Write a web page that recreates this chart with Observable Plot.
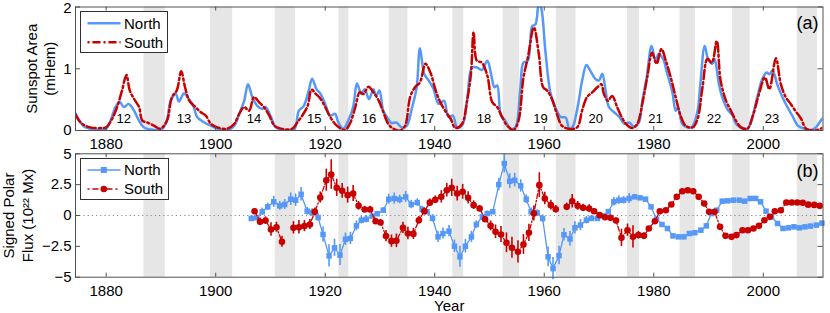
<!DOCTYPE html>
<html><head><meta charset="utf-8">
<script src="https://cdn.jsdelivr.net/npm/d3@7"></script>
<script src="https://cdn.jsdelivr.net/npm/@observablehq/plot@0.6"></script>
<style>
html,body{margin:0;padding:0;background:#fff;}
#wrap{position:relative;width:830px;height:313px;overflow:hidden;font-family:"Liberation Sans",Arial,Helvetica,sans-serif;}
#wrap svg{position:absolute;left:0;}
</style></head>
<body><div id="wrap"></div>
<script>
// ---------- DATA ----------
const xTicks = [1880, 1900, 1920, 1940, 1960, 1980, 2000];
const areaTicks = [0, 1, 2];
const fluxTicks = [-5, -2.5, 0, 2.5, 5];

// grey bands (cycle minima)
const bandStart = [1886.9, 1899.05, 1910.9, 1922.5, 1931.7, 1943.3, 1952.5, 1962.2, 1975.2, 1984.8, 1994.4, 2006.2];
const bandEnd   = [1890.8, 1903.1, 1914.6, 1924.3, 1935.1, 1945.3, 1955.5, 1965.8, 1977.4, 1987.6, 1997.6, 2009.9];

// cycle numbers
const cycleNumbers = ["12","13","14","15","16","17","18","19","20","21","22","23"];
const cycleYears   = [1883.2, 1894.2, 1907.0, 1918.0, 1928.0, 1938.6, 1949.0, 1959.3, 1969.4, 1980.3, 1991.0, 2001.6];

// sunspot area, North (mHem)
const northAreaYears = [1874.4,1875.2,1876,1877.1,1879,1880,1880.8,1881.7,1882.5,1883.2,1884.1,1885.1,1886,1886.9,1888.7,1889.9,1890.9,1891.8,1892.7,1893.3,1894.2,1895.1,1896,1896.6,1897.9,1899.1,1900.3,1902.1,1903.4,1904.3,1905.2,1905.9,1906.7,1907.6,1908.5,1909.1,1910.1,1911,1912.5,1914.3,1915.2,1916.1,1917,1917.6,1918.4,1919.1,1920,1920.9,1921.8,1922.4,1923.3,1924.2,1925.1,1925.8,1926.6,1927.2,1928,1928.8,1929.3,1929.9,1930.6,1931.5,1932.1,1933,1934,1934.9,1935.8,1936.7,1937.3,1938.1,1938.9,1939.8,1940.7,1941.7,1942.5,1943.3,1944.1,1945,1945.9,1946.8,1947.7,1948.6,1949.6,1950.3,1950.9,1951.4,1952.1,1952.9,1953.8,1954.7,1955.6,1956.2,1957,1957.8,1958.4,1959,1959.4,1960.2,1961.1,1962,1963,1963.9,1964.6,1965.3,1965.8,1966.3,1966.9,1967.7,1968.4,1969.4,1970,1970.6,1971.2,1971.8,1972.7,1973.7,1974.6,1975.5,1976.4,1977.3,1977.9,1978.7,1979.6,1980.3,1980.9,1981.7,1982.4,1983.4,1984,1984.4,1985.2,1986.1,1987,1988,1988.5,1989.3,1989.9,1990.7,1991.1,1991.9,1992.5,1993.4,1994.4,1995,1995.9,1997.1,1998,1998.9,1999.8,2000.6,2001.1,2001.7,2002.6,2003.5,2004.4,2005.3,2006.3,2007.5,2008.7,2009.6,2010.5,2010.9];
const northAreaValues = [0.28,0.15,0.06,0.03,0.01,0.03,0.16,0.38,0.46,0.38,0.43,0.32,0.16,0.05,0.01,0.01,0.11,0.48,0.59,0.47,0.6,0.51,0.38,0.22,0.13,0.08,0.03,0.01,0.08,0.27,0.48,0.75,0.54,0.4,0.35,0.38,0.22,0.05,0.01,0.01,0.32,0.4,0.65,0.84,0.67,0.6,0.43,0.24,0.27,0.13,0.03,0.16,0.38,0.76,0.59,0.67,0.51,0.67,0.56,0.65,0.32,0.19,0.12,0.13,0.05,0.08,0.35,0.7,1.33,0.91,0.81,0.67,0.43,0.48,0.22,0.24,0.05,0.08,0.48,1.02,1.02,0.98,1.13,0.91,0.7,0.73,0.24,0.16,0.03,0.05,0.65,1.1,1.13,1.69,1.72,2.05,2.0,1.29,0.62,0.38,0.22,0.21,0.02,0.08,0.25,0.48,0.8,1.06,0.97,0.83,0.81,0.92,0.65,0.38,0.3,0.22,0.11,0.13,0.06,0.13,0.48,0.86,1.37,1.13,1.24,1.16,0.94,0.62,0.32,0.37,0.11,0.05,0.06,0.32,0.75,1.37,1.16,1.08,1.16,0.75,0.54,0.35,0.24,0.11,0.05,0.03,0.22,0.54,0.83,0.94,0.91,0.97,0.73,0.54,0.38,0.24,0.08,0.03,0.01,0.05,0.16,0.2];

// sunspot area, South (mHem)
const southAreaYears = [1874.4,1875.3,1877.1,1879.3,1880,1881.1,1882,1882.9,1883.7,1884.3,1885.1,1886,1886.6,1887.5,1888.7,1889.9,1891.1,1892,1892.9,1893.7,1894.4,1895.2,1896.3,1897.2,1898.2,1899.1,1900.3,1902.1,1903.4,1904.3,1905.2,1906.1,1907,1907.9,1908.8,1909.8,1910.7,1911.9,1914,1914.9,1915.8,1916.8,1917.5,1918.3,1919.1,1920,1920.9,1922.1,1923.6,1924.5,1925.5,1926.3,1927,1927.9,1928.8,1929.8,1930.6,1931.5,1932.4,1933.7,1934.6,1935.5,1936.4,1937.3,1938.3,1939.2,1940.1,1940.9,1941.9,1942.9,1943.8,1945,1945.9,1946.6,1947.1,1947.7,1948.6,1949.6,1950.5,1951.4,1952.3,1953.2,1954.4,1955.3,1956.2,1957,1958.1,1959,1959.8,1960.5,1961.4,1962.3,1963.2,1964.4,1966,1966.9,1967.8,1968.8,1969.7,1970.4,1970.9,1971.6,1972.4,1973.3,1974.3,1975.2,1976.1,1977,1977.9,1978.8,1979.7,1980.5,1981.4,1982.2,1983.1,1984,1984.9,1985.8,1987.1,1988,1988.9,1989.8,1990.6,1991.5,1992.2,1993.2,1994.1,1995,1995.9,1997.1,1998.2,1999.2,2000.3,2001.1,2002.3,2003.2,2004.1,2005,2006,2006.9,2007.8,2009.3,2010.5,2010.9];
const southAreaValues = [0.26,0.13,0.05,0.04,0.05,0.19,0.38,0.65,0.9,0.65,0.51,0.38,0.16,0.13,0.08,0.03,0.16,0.54,0.65,0.96,0.7,0.48,0.38,0.3,0.24,0.11,0.05,0.03,0.11,0.27,0.38,0.32,0.54,0.46,0.38,0.24,0.08,0.03,0.03,0.13,0.24,0.4,0.66,0.59,0.52,0.38,0.22,0.08,0.01,0.11,0.38,0.62,0.59,0.71,0.62,0.48,0.3,0.11,0.03,0.0,0.08,0.54,0.7,0.78,1.08,0.94,0.67,0.48,0.32,0.19,0.04,0.11,0.48,0.91,1.59,1.13,1.1,0.89,0.46,0.38,0.22,0.08,0.01,0.16,0.86,1.18,1.67,1.24,0.7,0.65,0.51,0.27,0.08,0.03,0.05,0.32,0.54,0.62,0.7,0.75,0.59,0.48,0.56,0.38,0.19,0.08,0.04,0.11,0.43,0.86,1.26,1.08,1.32,1.13,0.86,0.54,0.24,0.08,0.05,0.19,0.7,1.16,1.1,1.45,0.81,0.48,0.32,0.16,0.05,0.03,0.27,0.59,0.86,0.67,1.17,0.75,0.54,0.43,0.3,0.19,0.03,0.0,0.03,0.05];

// signed polar flux, North (1e22 Mx) with error half-lengths
const northFluxYears = [1906.5,1907.5,1908.5,1909.5,1910.6,1911.7,1912.6,1913.7,1914.6,1915.6,1916.7,1917.6,1918.7,1919.6,1920.7,1921.7,1922.7,1923.7,1924.6,1925.7,1926.6,1927.5,1928.6,1929.5,1930.6,1931.6,1932.6,1933.6,1934.7,1935.7,1936.8,1937.7,1938.6,1939.6,1940.6,1941.5,1942.6,1943.6,1944.6,1945.6,1946.7,1947.6,1948.7,1949.6,1950.6,1951.7,1952.7,1953.7,1954.6,1955.7,1956.7,1957.6,1958.7,1959.7,1960.7,1961.6,1962.7,1963.6,1964.7,1965.6,1966.6,1967.7,1968.6,1969.7,1970.7,1971.7,1972.7,1973.6,1974.5,1975.5,1976.5,1977.5,1978.5,1979.5,1980.5,1981.5,1982.5,1983.5,1984.5,1985.5,1986.5,1987.5,1988.6,1989.6,1990.5,1991.5,1992.5,1993.5,1994.5,1995.6,1996.6,1997.6,1998.6,1999.5,2000.5,2001.5,2002.6,2003.6,2004.6,2005.6,2006.6,2007.6,2008.6,2009.7,2010.7];
const northFluxValues = [-0.24,-0.19,0.3,0.7,1.11,0.78,0.89,1.32,1.24,1.72,0.35,0.24,-0.16,-1.54,-3.27,-2.62,-3.21,-1.92,-1.86,-0.84,-0.38,-0.3,-0.05,0.14,0.43,1.32,1.38,1.3,1.51,0.89,1.05,0.49,0.3,-0.22,-1.73,-1.46,-1.27,-2.49,-3.35,-2.49,-1.73,-0.73,-0.11,0.16,0.3,2.51,4.21,2.78,2.86,2.4,1.32,0.3,0.22,-0.24,-3.35,-4.3,-3.25,-1.56,-1.9,-1.0,-0.78,-0.38,-0.24,-0.24,-0.03,0.3,1.11,1.24,1.24,1.38,1.51,1.43,1.32,0.7,-0.3,-0.73,-1.05,-1.65,-1.73,-1.73,-1.46,-1.4,-1.19,-0.84,0.16,0.43,1.16,1.19,1.24,1.24,1.16,1.38,1.38,1.11,0.35,-0.11,-0.65,-1.05,-1.0,-0.92,-1.0,-0.92,-0.86,-0.78,-0.62];
const northFluxErrors = [0.2,0.2,0.3,0.3,0.45,0.35,0.4,0.5,0.5,0.55,0.3,0.3,0.3,0.6,0.9,0.7,0.85,0.5,0.5,0.4,0.3,0.3,0.2,0.2,0.2,0.4,0.45,0.35,0.45,0.35,0.3,0.25,0.2,0.3,0.45,0.45,0.45,0.5,0.85,0.55,0.45,0.3,0.2,0.2,0.2,0.5,0.75,0.6,0.55,0.5,0.35,0.3,0.25,0.3,0.8,0.9,0.75,0.5,0.6,0.5,0.45,0.3,0.25,0.2,0.2,0.2,0.35,0.35,0.3,0.4,0.2,0.15,0.15,0.15,0.15,0.15,0.15,0.15,0.15,0.15,0.15,0.15,0.15,0.15,0.15,0.15,0.15,0.15,0.15,0.15,0.15,0.15,0.15,0.15,0.15,0.15,0.15,0.15,0.15,0.15,0.15,0.15,0.15,0.15,0.15];

// signed polar flux, South (null = no measurement)
const southFluxYears = [1907.1,1908.1,1909.1,1910.1,1911.1,1912.1,1913.1,1914.2,1915.2,1916.2,1917.2,1918.1,1919.1,1920.2,1921.1,1922.1,1923.1,1924.1,1925.1,1926.1,1927.2,1928.2,1929.2,1930.1,1931.1,1932.1,1933.0,1934.2,1935.1,1936.1,1937.1,1938.1,1939.1,1940.1,1941.2,1942.2,1943.1,1944.1,1945.1,1946.1,1947.1,1948.2,1949.2,1950.2,1951.1,1952.1,1953.1,1954.1,1955.2,1956.2,1957.2,1958.1,1959.1,1960.1,1961.2,1962.1,1963.1,1964.1,1965.1,1966.1,1967.1,1968.2,1969.1,1970.1,1971.1,1972.1,1973.1,1974.1,1975.2,1976.2,1977.2,1978.2,1979.1,1980.2,1981.1,1982.2,1983.2,1984.2,1985.2,1986.2,1987.2,1988.2,1989.2,1990.1,1991.1,1992.1,1993.1,1994.2,1995.1,1996.2,1997.2,1998.2,1999.2,2000.2,2001.2,2002.1,2003.2,2004.2,2005.2,2006.2,2007.2,2008.2,2009.3,2010.3];
const southFluxValues = [0.35,-0.51,-0.41,-1.13,-0.95,-2.13,null,-1.0,-0.95,-0.86,-0.73,0.3,1.46,2.86,3.32,2.24,2.0,1.65,1.78,0.78,0.49,0.49,-0.46,-0.57,-1.67,-2.08,-2.05,-1.0,-1.46,-1.49,-0.38,0.35,1.04,1.28,1.51,2.05,2.24,1.78,1.92,1.43,0.84,0.57,-0.3,-0.84,-1.32,-1.54,-2.21,-2.62,-2.94,-2.35,-1.4,0.16,2.46,1.38,0.84,0.51,null,0.7,1.16,0.78,0.62,0.57,0.35,0.03,-0.14,-0.19,-0.41,-1.81,-1.19,-1.73,-1.59,-1.65,-1.05,-0.46,0.35,0.43,0.89,1.51,1.97,2.05,1.97,1.51,0.97,0.3,0.3,-0.92,-1.65,-1.73,-1.59,-1.19,-1.19,-1.05,-0.84,-0.38,-0.11,0.35,0.43,1.05,1.05,1.05,1.03,0.88,0.86,0.78];
const southFluxErrors = [0.2,0.3,0.3,0.55,0.4,0.45,null,0.5,0.55,0.45,0.4,0.3,0.45,0.9,1.2,0.7,0.6,0.65,0.65,0.35,0.25,0.25,0.25,0.25,0.45,0.5,0.55,0.45,0.5,0.45,0.3,0.25,0.3,0.3,0.5,0.55,0.7,0.6,0.6,0.5,0.35,0.25,0.2,0.4,0.55,0.65,0.8,0.85,0.9,0.8,0.7,0.6,1.0,0.5,0.4,0.3,null,0.3,0.55,0.35,0.3,0.3,0.2,0.2,0.2,0.2,0.2,0.7,0.5,0.9,0.3,0.25,0.15,0.15,0.15,0.15,0.15,0.15,0.15,0.15,0.15,0.15,0.15,0.15,0.15,0.15,0.15,0.15,0.15,0.15,0.15,0.15,0.15,0.15,0.15,0.15,0.15,0.15,0.15,0.15,0.15,0.15,0.15,0.15];

// ---------- BUILD ----------
const BLUE = "#5598f8", RED = "#c80000", FRAME = "#505050", BAND = "#e6e6e6";
const FONT = "'Liberation Sans', Arial, Helvetica, sans-serif";
const W = 830, ML = 75, MR = 7.5;
const xDomain = [1874.4, 2010.9];
const frameW = W - ML - MR;

const bands = bandStart.map((s, i) => ({s, e: bandEnd[i]}));
const cycles = cycleNumbers.map((label, i) => ({label, year: cycleYears[i]}));
const rows = (ys, vs, es) => ys.map((year, i) => ({year, v: vs[i], e: es ? es[i] : null}));
const northArea = rows(northAreaYears, northAreaValues);
const southArea = rows(southAreaYears, southAreaValues);
const northFlux = rows(northFluxYears, northFluxValues, northFluxErrors);
const southFlux = rows(southFluxYears, southFluxValues, southFluxErrors);
const has = d => d.v != null;

const fmt = d => (d < 0 ? "\u2212" : "") + Math.abs(d);
const style = {fontFamily: FONT, fontSize: "15px", background: "transparent", overflow: "visible", color: "#000"};

function frameMarks(frameH, yTicks, topLabelShift) {
  const yMax = d3.max(yTicks);
  return [
    Plot.ruleX(xTicks, {insetTop: frameH - 4, stroke: FRAME}),
    Plot.ruleX(xTicks, {insetBottom: frameH - 4, stroke: FRAME}),
    Plot.ruleY(yTicks, {insetRight: frameW - 5, stroke: FRAME}),
    Plot.ruleY(yTicks, {insetLeft: frameW - 5, stroke: FRAME}),
    Plot.frame({stroke: FRAME, strokeWidth: 1}),
    Plot.axisX(xTicks, {tickSize: 0, tickPadding: 8, label: null, tickFormat: d => String(d), fontSize: 15}),
    Plot.axisY(yTicks.filter(t => t !== yMax), {tickSize: 0, tickPadding: 4, label: null, tickFormat: fmt, fontSize: 15}),
    Plot.axisY([yMax], {tickSize: 0, tickPadding: 4, label: null, tickFormat: fmt, fontSize: 15, dy: topLabelShift})
  ];
}

// top panel
const topH = 150, topMT = 6.5, topMB = 20, topFrameH = topH - topMT - topMB;
const topPlot = Plot.plot({
  width: W, height: topH, marginLeft: ML, marginRight: MR, marginTop: topMT, marginBottom: topMB,
  style,
  x: {domain: xDomain},
  y: {domain: [0, 2]},
  marks: [
    Plot.rect(bands, {x1: "s", x2: "e", fill: BAND}),
    Plot.text(cycles, {x: "year", text: "label", frameAnchor: "bottom", lineAnchor: "middle", dy: -12, fontSize: 13}),
    Plot.line(northArea, {x: "year", y: "v", stroke: BLUE, strokeWidth: 2.5, curve: "catmull-rom", clip: true}),
    Plot.line(southArea, {x: "year", y: "v", stroke: RED, strokeWidth: 2.5, strokeDasharray: "9,3,2,3", curve: "catmull-rom", clip: true}),
    ...frameMarks(topFrameH, areaTicks, 1.5),
    Plot.text(["Sunspot Area"], {text: d => d, frameAnchor: "left", textAnchor: "middle", lineAnchor: "middle", dx: -43, rotate: -90, fontSize: 15}),
    Plot.text(["(mHem)"], {text: d => d, frameAnchor: "left", textAnchor: "middle", lineAnchor: "middle", dx: -25, rotate: -90, fontSize: 15}),
    Plot.text(["(a)"], {text: d => d, frameAnchor: "top-right", textAnchor: "end", lineAnchor: "middle", dx: -4.5, dy: 16, fontSize: 18})
  ]
});

// bottom panel
const botTop = 148, botH = 165, botMT = 5.3, botMB = 36.3, botFrameH = botH - botMT - botMB;
const botPlot = Plot.plot({
  width: W, height: botH, marginLeft: ML, marginRight: MR, marginTop: botMT, marginBottom: botMB,
  style,
  x: {domain: xDomain},
  y: {domain: [-5, 5]},
  marks: [
    Plot.rect(bands, {x1: "s", x2: "e", fill: BAND}),
    Plot.ruleY([0], {stroke: "#8a8a8a", strokeDasharray: "1.2,3"}),
    Plot.ruleX(northFlux.filter(has), {x: "year", y1: d => d.v - d.e, y2: d => d.v + d.e, stroke: BLUE, strokeWidth: 1.6}),
    Plot.line(northFlux, {x: "year", y: "v", stroke: BLUE, strokeWidth: 1.3}),
    Plot.dot(northFlux.filter(has), {x: "year", y: "v", symbol: "square", r: 3.1, fill: BLUE, stroke: "none"}),
    Plot.ruleX(southFlux.filter(has), {x: "year", y1: d => d.v - d.e, y2: d => d.v + d.e, stroke: RED, strokeWidth: 1.6}),
    Plot.line(southFlux, {x: "year", y: "v", stroke: RED, strokeWidth: 1.3, strokeDasharray: "5,2,1.5,2"}),
    Plot.dot(southFlux.filter(has), {x: "year", y: "v", symbol: "circle", r: 3.3, fill: RED, stroke: "none"}),
    ...frameMarks(botFrameH, fluxTicks, 0),
    Plot.text(["Year"], {text: d => d, frameAnchor: "bottom", lineAnchor: "middle", dy: 28.5, fontSize: 15}),
    Plot.text(["Signed Polar"], {text: d => d, frameAnchor: "left", textAnchor: "middle", lineAnchor: "middle", dx: -66.5, rotate: -90, fontSize: 15}),
    Plot.text(["Flux (10\u00B2\u00B2 Mx)"], {text: d => d, frameAnchor: "left", textAnchor: "middle", lineAnchor: "middle", dx: -47, rotate: -90, fontSize: 15}),
    Plot.text(["(b)"], {text: d => d, frameAnchor: "top-right", textAnchor: "end", lineAnchor: "middle", dx: -4.5, dy: 17.5, fontSize: 18})
  ]
});

const wrap = document.getElementById("wrap");
topPlot.style.top = "0px";
botPlot.style.top = botTop + "px";
wrap.appendChild(topPlot);
wrap.appendChild(botPlot);

// legends (overlay)
const leg = d3.select(wrap).append("svg")
  .attr("width", W).attr("height", 313)
  .style("top", "0px").style("font-family", FONT).style("font-size", "15px");

function legendBox(x, y, w, h, items) {
  const g = leg.append("g");
  g.append("rect").attr("x", x).attr("y", y).attr("width", w).attr("height", h)
    .attr("fill", "#fff").attr("stroke", "#303030").attr("stroke-width", 1);
  items.forEach(it => {
    g.append("line").attr("x1", x + 7).attr("x2", x + 40).attr("y1", it.y).attr("y2", it.y)
      .attr("stroke", it.color).attr("stroke-width", it.width)
      .attr("stroke-dasharray", it.dash || null);
    if (it.marker === "square") {
      g.append("rect").attr("x", x + 23.3 - 3).attr("y", it.y - 3).attr("width", 6).attr("height", 6).attr("fill", it.color);
    } else if (it.marker === "circle") {
      g.append("circle").attr("cx", x + 23.3).attr("cy", it.y).attr("r", 3.3).attr("fill", it.color);
    }
    g.append("text").attr("x", x + 43.5).attr("y", it.y).attr("dy", "0.35em").text(it.label);
  });
}
legendBox(80.5, 11.5, 87, 41, [
  {label: "North", y: 23.3, color: BLUE, width: 2.5},
  {label: "South", y: 42.3, color: RED, width: 2.5, dash: "2,3,8,3"}
]);
legendBox(80.5, 158.5, 88, 41, [
  {label: "North", y: 170, color: BLUE, width: 1.3, marker: "square"},
  {label: "South", y: 189, color: RED, width: 1.3, dash: "2,3,6,3", marker: "circle"}
]);
</script>
</body></html>
